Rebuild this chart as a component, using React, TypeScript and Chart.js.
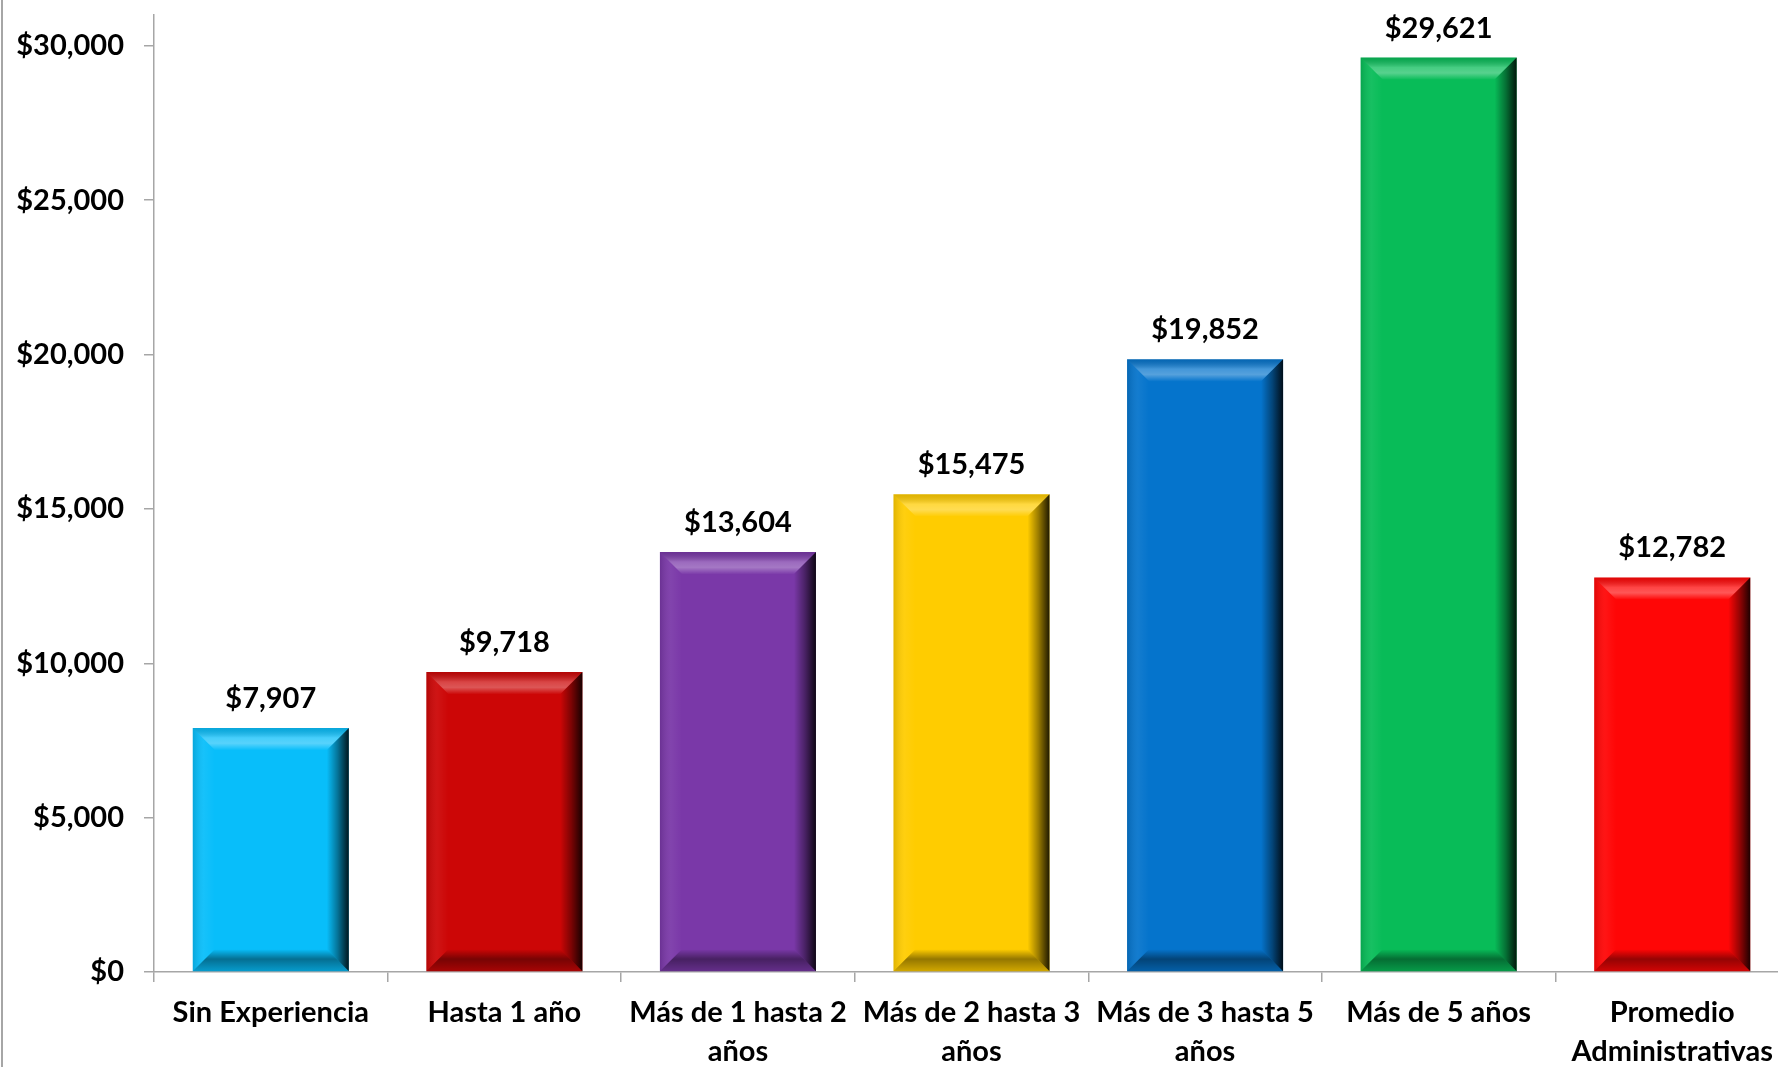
import React, { useEffect, useRef } from "react";
import { Chart, registerables } from "chart.js";

Chart.register(...registerables);

const categories: string[][] = [
  ["Sin Experiencia"],
  ["Hasta 1 año"],
  ["Más de 1 hasta 2", "años"],
  ["Más de 2 hasta 3", "años"],
  ["Más de 3 hasta 5", "años"],
  ["Más de 5 años"],
  ["Promedio", "Administrativas"],
];
const salaries: number[] = [7907, 9718, 13604, 15475, 19852, 29621, 12782];
const barColors: string[] = [
  "#08BEFA",
  "#CC0606",
  "#7A38A8",
  "#FFCC00",
  "#0574CC",
  "#08BC58",
  "#FF0606",
];
const yTickValues: number[] = [0, 5000, 10000, 15000, 20000, 25000, 30000];
const yMin = 0;
const yMax = 31000;

const FONT = "Lato, 'Open Sans', sans-serif";
const FONT_SIZE = 29;

const fmt = (v: number) => "$" + Number(v).toLocaleString("en-US");

const bevelPlugin = {
  id: "bevel",
  afterDatasetsDraw(chart: any) {
    const ctx: CanvasRenderingContext2D = chart.ctx;
    const meta = chart.getDatasetMeta(0);
    meta.data.forEach((bar: any) => {
      const { x, y, base, width } = bar.getProps(["x", "y", "base", "width"], true);
      const l = x - width / 2;
      const r = x + width / 2;
      const t = Math.min(y, base);
      const bt = Math.max(y, base);
      const b = Math.min(22, (bt - t) / 2, width / 2);
      const poly = (pts: number[][], fill: any) => {
        ctx.save();
        ctx.beginPath();
        ctx.moveTo(pts[0][0], pts[0][1]);
        for (let k = 1; k < pts.length; k++) ctx.lineTo(pts[k][0], pts[k][1]);
        ctx.closePath();
        ctx.fillStyle = fill;
        ctx.fill();
        ctx.restore();
      };
      const gl = ctx.createLinearGradient(l, 0, l + b, 0);
      gl.addColorStop(0, "rgba(0,0,0,0.12)");
      gl.addColorStop(0.5, "rgba(255,255,255,0.06)");
      gl.addColorStop(1, "rgba(255,255,255,0)");
      poly([[l, t], [l + b, t + b], [l + b, bt - b], [l, bt]], gl);
      const gr = ctx.createLinearGradient(r - b, 0, r, 0);
      gr.addColorStop(0, "rgba(0,0,0,0)");
      gr.addColorStop(0.5, "rgba(0,0,0,0.4)");
      gr.addColorStop(1, "rgba(0,0,0,0.88)");
      poly([[r, t], [r, bt], [r - b, bt - b], [r - b, t + b]], gr);
      const gt = ctx.createLinearGradient(0, t, 0, t + b);
      gt.addColorStop(0, "rgba(0,0,0,0.12)");
      gt.addColorStop(0.45, "rgba(255,255,255,0.25)");
      gt.addColorStop(0.7, "rgba(255,255,255,0.32)");
      gt.addColorStop(1, "rgba(255,255,255,0.02)");
      poly([[l, t], [r, t], [r - b, t + b], [l + b, t + b]], gt);
      const gb = ctx.createLinearGradient(0, bt - b, 0, bt);
      gb.addColorStop(0, "rgba(0,0,0,0)");
      gb.addColorStop(0.45, "rgba(0,0,0,0.42)");
      gb.addColorStop(1, "rgba(0,0,0,0.18)");
      poly([[l + b, bt - b], [r - b, bt - b], [r, bt], [l, bt]], gb);
    });
  },
};

const valueLabelPlugin = {
  id: "valueLabels",
  afterDatasetsDraw(chart: any) {
    const ctx: CanvasRenderingContext2D = chart.ctx;
    const meta = chart.getDatasetMeta(0);
    const ds = chart.data.datasets[0];
    ctx.save();
    ctx.font = `bold ${FONT_SIZE}px ${FONT}`;
    ctx.fillStyle = "#000";
    ctx.textAlign = "center";
    ctx.textBaseline = "alphabetic";
    meta.data.forEach((bar: any, i: number) => {
      const { x, y } = bar.getProps(["x", "y"], true);
      ctx.fillText(fmt(ds.data[i]), x, y - 20);
    });
    ctx.restore();
  },
};

const edgePlugin = {
  id: "edge",
  beforeDraw(chart: any) {
    const ctx: CanvasRenderingContext2D = chart.ctx;
    ctx.save();
    ctx.fillStyle = "#ffffff";
    ctx.fillRect(0, 0, chart.width, chart.height);
    ctx.fillStyle = "#a6a6a6";
    ctx.fillRect(1, 0, 2, chart.height);
    ctx.restore();
  },
};

export default function App() {
  const ref = useRef<HTMLCanvasElement | null>(null);

  useEffect(() => {
    document.body.style.margin = "0";
    if (!ref.current) return;
    const chart = new Chart(ref.current, {
      type: "bar",
      data: {
        labels: categories,
        datasets: [
          {
            data: salaries,
            backgroundColor: barColors,
            borderWidth: 0,
            barPercentage: 0.668,
            categoryPercentage: 1,
          },
        ],
      },
      options: {
        animation: false,
        responsive: false,
        devicePixelRatio: 1,
        layout: { padding: { top: 15, right: 1, left: 0, bottom: 0 } },
        plugins: {
          legend: { display: false },
          tooltip: { enabled: false },
        },
        scales: {
          x: {
            grid: {
              display: true,
              drawOnChartArea: false,
              drawTicks: true,
              tickLength: 10,
              color: "#a6a6a6",
              lineWidth: 1.5,
              offset: true,
            },
            border: { display: true, color: "#a6a6a6", width: 1.5 },
            ticks: {
              color: "#000",
              padding: 11,
              maxRotation: 0,
              autoSkip: false,
              font: { family: FONT, size: FONT_SIZE, weight: "bold", lineHeight: 39 / FONT_SIZE },
            },
            afterFit: (s: any) => {
              s.height = 95;
              s.paddingLeft = 0;
              s.paddingRight = 0;
            },
          },
          y: {
            type: "linear",
            min: yMin,
            max: yMax,
            grid: {
              display: true,
              drawOnChartArea: false,
              drawTicks: true,
              tickLength: 10,
              color: "#a6a6a6",
              lineWidth: 1.5,
            },
            border: { display: true, color: "#a6a6a6", width: 1.5 },
            ticks: {
              autoSkip: false,
              color: "#000",
              padding: 20,
              font: { family: FONT, size: FONT_SIZE, weight: "bold" },
              callback: (v: any) => fmt(Number(v)),
            },
            afterBuildTicks: (s: any) => {
              s.ticks = yTickValues.map((v) => ({ value: v }));
            },
            afterFit: (s: any) => {
              s.width = 154;
              s.paddingTop = 0;
              s.paddingBottom = 0;
            },
          },
        },
      },
      plugins: [edgePlugin, bevelPlugin, valueLabelPlugin],
    });
    return () => chart.destroy();
  }, []);

  return (
    <div
      style={{
        position: "absolute",
        left: 0,
        top: 0,
        width: 1778,
        height: 1067,
        overflow: "hidden",
        background: "#fff",
      }}
    >
      <canvas ref={ref} width={1790} height={1067} style={{ display: "block" }} />
    </div>
  );
}
